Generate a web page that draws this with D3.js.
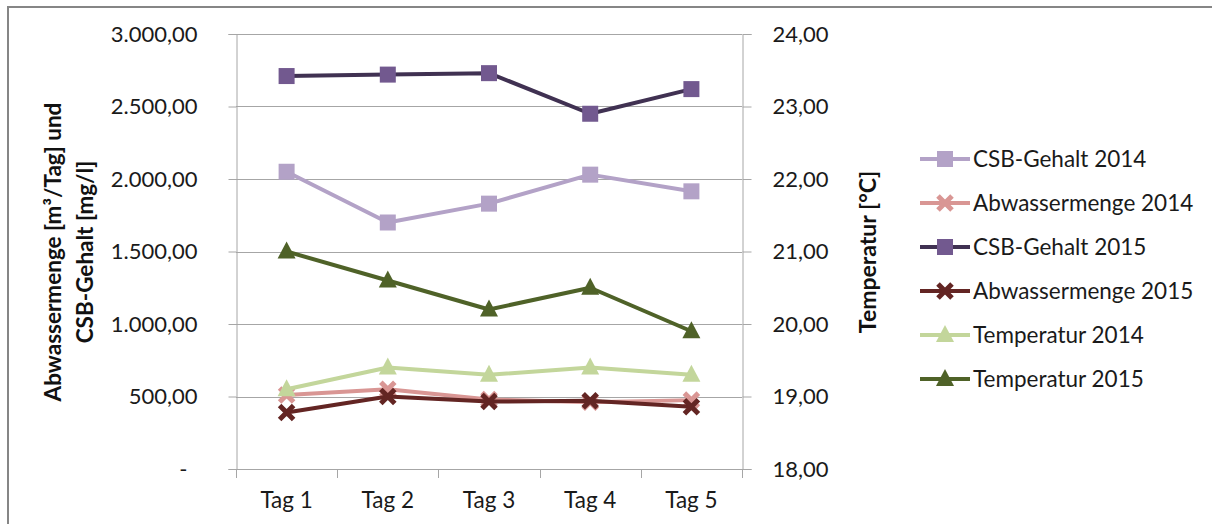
<!DOCTYPE html>
<html>
<head>
<meta charset="utf-8">
<script src="https://cdn.jsdelivr.net/npm/d3@7"></script>
<style>
  html, body { margin: 0; padding: 0; background: #fff; }
  svg { display: block; font-family: Lato, "Open Sans", sans-serif; }
</style>
</head>
<body>
<svg id="chart" width="1212" height="524"></svg>
<script>
// Tage
const categories = ["Tag 1", "Tag 2", "Tag 3", "Tag 4", "Tag 5"];

// Primärachse: Abwassermenge [m³/Tag] und CSB-Gehalt [mg/l]
const csb2014 = [2050, 1700, 1830, 2030, 1915];
const abwasser2014 = [510, 550, 480, 460, 475];
const csb2015 = [2710, 2720, 2730, 2450, 2620];
const abwasser2015 = [390, 500, 465, 470, 430];

// Sekundärachse: Temperatur [°C]
const temp2014 = [19.1, 19.4, 19.3, 19.4, 19.3];
const temp2015 = [21.0, 20.6, 20.2, 20.5, 19.9];

const leftTicks = [0, 500, 1000, 1500, 2000, 2500, 3000];
const rightTicks = [18, 19, 20, 21, 22, 23, 24];

const series = [
  { name: "CSB-Gehalt 2014", values: csb2014, axis: "left", marker: "square", line: "#b3a2c7", fill: "#b3a2c7" },
  { name: "Abwassermenge 2014", values: abwasser2014, axis: "left", marker: "x", line: "#d99694", fill: "#d99694" },
  { name: "CSB-Gehalt 2015", values: csb2015, axis: "left", marker: "square", line: "#403152", fill: "#72598f" },
  { name: "Abwassermenge 2015", values: abwasser2015, axis: "left", marker: "x", line: "#632523", fill: "#632523" },
  { name: "Temperatur 2014", values: temp2014, axis: "right", marker: "triangle", line: "#c3d69b", fill: "#c3d69b" },
  { name: "Temperatur 2015", values: temp2015, axis: "right", marker: "triangle", line: "#4f6228", fill: "#4f6228" }
];

const svg = d3.select("#chart");
const plot = { left: 236, right: 742, top: 34, bottom: 469 };
const tickFont = 22;
const labelFont = 22.5;

// Rahmen des Diagramms
svg.append("rect")
  .attr("x", 8).attr("y", 7)
  .attr("width", 1230).attr("height", 540)
  .attr("fill", "none").attr("stroke", "#868686").attr("stroke-width", 2);

const x = d3.scaleBand().domain(categories).range([plot.left, plot.right]);
const yL = d3.scaleLinear().domain([0, 3000]).range([plot.bottom, plot.top]);
const yR = d3.scaleLinear().domain([18, 24]).range([plot.bottom, plot.top]);

const de = d3.formatLocale({ decimal: ",", thousands: ".", grouping: [3], currency: ["", " €"] });
const fmt = de.format(",.2f");

const gridColor = "#a6a6a6";

// Gitternetzlinien
svg.append("g").selectAll("line").data(leftTicks).join("line")
  .attr("x1", plot.left).attr("x2", plot.right)
  .attr("y1", d => Math.round(yL(d)) + 0.5).attr("y2", d => Math.round(yL(d)) + 0.5)
  .attr("stroke", gridColor).attr("stroke-width", 1);

// Linke Achse
const leftAxis = svg.append("g")
  .attr("transform", `translate(${plot.left + 0.5},0)`)
  .call(d3.axisLeft(yL).tickValues(leftTicks).tickSize(8).tickPadding(31)
    .tickFormat(d => d === 0 ? "-" : fmt(d)));
leftAxis.selectAll("text").filter(d => d === 0).attr("dx", -10);

// Rechte Achse
const rightAxis = svg.append("g")
  .attr("transform", `translate(${plot.right + 0.5},0)`)
  .call(d3.axisRight(yR).tickValues(rightTicks).tickSize(9).tickPadding(21)
    .tickFormat(d => fmt(d)));

// Kategorienachse
const bottomAxis = svg.append("g")
  .attr("transform", `translate(0,${Math.round(plot.bottom) + 0.5})`)
  .call(d3.axisBottom(x).tickSize(0).tickPadding(23));

// Trennstriche zwischen den Kategorien
svg.append("g").selectAll("line")
  .data(d3.range(categories.length + 1))
  .join("line")
  .attr("x1", i => Math.round(plot.left + i * x.step()) + 0.5)
  .attr("x2", i => Math.round(plot.left + i * x.step()) + 0.5)
  .attr("y1", plot.bottom).attr("y2", plot.bottom + 9)
  .attr("stroke", gridColor);

[leftAxis, rightAxis, bottomAxis].forEach(g => {
  g.select(".domain").attr("stroke", gridColor);
  g.selectAll(".tick line").attr("stroke", gridColor);
  g.selectAll("text").attr("font-size", tickFont).attr("fill", "#1a1a1a")
    .attr("font-family", "Lato, sans-serif");
});
bottomAxis.selectAll("text").attr("font-size", labelFont);
bottomAxis.select(".domain").attr("d", `M${plot.left + 0.5},0H${plot.right + 0.5}`);

// Achsentitel
const titleL = svg.append("text")
  .attr("transform", `translate(0,252) rotate(-90)`)
  .attr("text-anchor", "middle")
  .attr("font-size", labelFont).attr("font-weight", "bold").attr("fill", "#111");
titleL.append("tspan").attr("x", 0).attr("y", 61).text("Abwassermenge [m³/Tag] und");
titleL.append("tspan").attr("x", 0).attr("y", 93).text("CSB-Gehalt [mg/l]");

svg.append("text")
  .attr("transform", `translate(876,252) rotate(-90)`)
  .attr("text-anchor", "middle")
  .attr("font-size", 23).attr("font-weight", "bold").attr("fill", "#111")
  .text("Temperatur [°C]");

// Markerformen
function drawMarker(g, type, cx, cy, fill) {
  if (type === "square") {
    g.append("rect").attr("x", cx - 8).attr("y", cy - 8).attr("width", 16).attr("height", 16)
      .attr("fill", fill);
  } else if (type === "triangle") {
    g.append("path").attr("d", `M${cx},${cy - 10}L${cx + 9},${cy + 7}L${cx - 9},${cy + 7}Z`)
      .attr("fill", fill);
  } else {
    g.append("path").attr("d", `M${cx - 7},${cy - 7}L${cx + 7},${cy + 7}M${cx - 7},${cy + 7}L${cx + 7},${cy - 7}`)
      .attr("stroke", fill).attr("stroke-width", 5).attr("fill", "none");
  }
}

const cx = c => x(c) + x.bandwidth() / 2;

// Linien und Marker
series.forEach(s => {
  const y = s.axis === "left" ? yL : yR;
  const g = svg.append("g");
  const line = d3.line().x((d, i) => cx(categories[i])).y(d => y(d));
  g.append("path").datum(s.values).attr("d", line)
    .attr("fill", "none").attr("stroke", s.line).attr("stroke-width", 4)
    .attr("stroke-linejoin", "round");
  s.values.forEach((v, i) => drawMarker(g, s.marker, cx(categories[i]), y(v), s.fill));
});

// Legende
const legend = svg.append("g");
series.forEach((s, i) => {
  const ly = 159 + i * 44;
  const g = legend.append("g");
  g.append("line").attr("x1", 920).attr("x2", 970).attr("y1", ly).attr("y2", ly)
    .attr("stroke", s.line).attr("stroke-width", 4);
  drawMarker(g, s.marker, 945, ly, s.fill);
  g.append("text").attr("x", 973).attr("y", ly).attr("dy", "0.35em")
    .attr("font-size", labelFont).attr("fill", "#1a1a1a").text(s.name);
});
</script>
</body>
</html>
